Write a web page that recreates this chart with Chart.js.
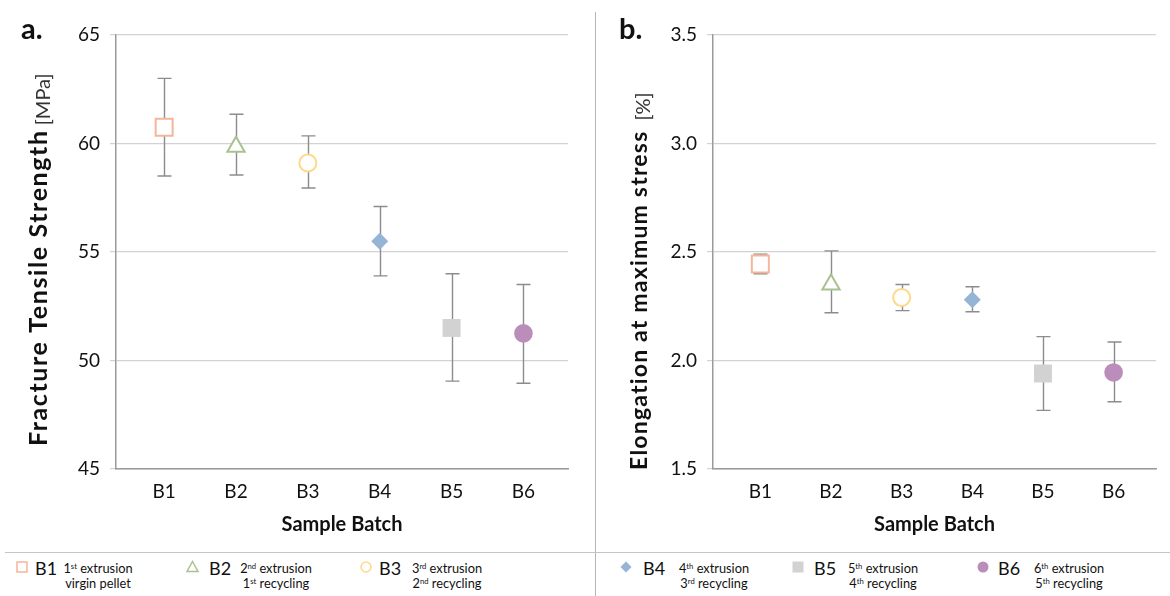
<!DOCTYPE html>
<html>
<head>
<meta charset="utf-8">
<script src="https://cdn.jsdelivr.net/npm/chart.js@4/dist/chart.umd.min.js"></script>
<style>
  html, body { margin: 0; padding: 0; background: #fff; }
  body { width: 1170px; height: 596px; position: relative; overflow: hidden; font-family: Lato, "Open Sans", sans-serif; color: #111; }
  canvas { position: absolute; top: 0; }
  #chartA { left: 0; }
  #chartB { left: 596px; }
  .panel { position: absolute; font-weight: 700; font-size: 29px; line-height: 1; }
  .sep-v { position: absolute; left: 595px; top: 12px; width: 1px; height: 584px; background: #b5b5b5; }
  .sep-h { position: absolute; left: 5px; top: 552px; width: 1165px; height: 1px; background: #c4c4c4; }
  .leg-mark { position: absolute; }
  .leg-id { position: absolute; top: 558px; font-size: 18px; line-height: 20px; }
  .leg-txt { position: absolute; top: 561px; transform: translateX(-50%); font-size: 12.8px; line-height: 15px; text-align: center; white-space: nowrap; }
  .leg-txt sup { font-size: 0.6em; line-height: 0; vertical-align: 0.55em; }
</style>
</head>
<body>
<canvas id="chartA" width="595" height="545"></canvas>
<canvas id="chartB" width="574" height="545"></canvas>
<div class="panel" style="left:21px; top:13px;">a.</div>
<div class="panel" style="left:619px; top:13px;">b.</div>
<div class="sep-v"></div>
<div class="sep-h"></div>

<!-- legend -->
<svg class="leg-mark" style="left:16px; top:561px;" width="12" height="12"><rect x="1" y="1" width="10" height="10" fill="none" stroke="#f5b59b" stroke-width="1.5"/></svg>
<div class="leg-id" style="left:35px;">B1</div>
<div class="leg-txt" style="left:98px;">1<sup>st</sup> extrusion<br>virgin pellet</div>

<svg class="leg-mark" style="left:186px; top:560px;" width="13" height="13"><polygon points="6.5,1.5 12,11.5 1,11.5" fill="none" stroke="#a9c191" stroke-width="1.5"/></svg>
<div class="leg-id" style="left:209px;">B2</div>
<div class="leg-txt" style="left:276px;">2<sup>nd</sup> extrusion<br>1<sup>st</sup> recycling</div>

<svg class="leg-mark" style="left:360px; top:561px;" width="12" height="12"><circle cx="6" cy="6" r="5" fill="none" stroke="#fdd98a" stroke-width="1.5"/></svg>
<div class="leg-id" style="left:379px;">B3</div>
<div class="leg-txt" style="left:447px;">3<sup>rd</sup> extrusion<br>2<sup>nd</sup> recycling</div>

<svg class="leg-mark" style="left:620px; top:561px;" width="12" height="12"><polygon points="6,0.5 11.5,6 6,11.5 0.5,6" fill="#95b4d6"/></svg>
<div class="leg-id" style="left:643px;">B4</div>
<div class="leg-txt" style="left:714px;">4<sup>th</sup> extrusion<br>3<sup>rd</sup> recycling</div>

<svg class="leg-mark" style="left:792px; top:561px;" width="12" height="12"><rect x="0.5" y="0.5" width="11" height="11" fill="#d2d2d2"/></svg>
<div class="leg-id" style="left:814px;">B5</div>
<div class="leg-txt" style="left:883px;">5<sup>th</sup> extrusion<br>4<sup>th</sup> recycling</div>

<svg class="leg-mark" style="left:977px; top:561px;" width="12" height="12"><circle cx="6" cy="6" r="5.5" fill="#bb8dbb"/></svg>
<div class="leg-id" style="left:998px;">B6</div>
<div class="leg-txt" style="left:1069px;">6<sup>th</sup> extrusion<br>5<sup>th</sup> recycling</div>

<script>
// ===============================
// DATA
// ===============================
const batches = ['B1', 'B2', 'B3', 'B4', 'B5', 'B6'];

const strengthMean = [60.75, 59.85, 59.1, 55.5, 51.5, 51.25];
const strengthLow  = [58.5, 58.55, 57.95, 53.9, 49.05, 48.95];
const strengthHigh = [63.0, 61.35, 60.35, 57.1, 54.0, 53.5];
const strengthTicks = [45, 50, 55, 60, 65];

const elongMean = [2.445, 2.35, 2.29, 2.28, 1.94, 1.945];
const elongLow  = [2.40, 2.22, 2.23, 2.225, 1.77, 1.81];
const elongHigh = [2.49, 2.505, 2.35, 2.34, 2.11, 2.085];
const elongTicks = [1.5, 2.0, 2.5, 3.0, 3.5];

// ===============================
// MARKER STYLES (per batch)
// ===============================
const markerShape  = ['rect', 'triangle', 'circle', 'rectRot', 'rect', 'circle'];
const markerRadius = [12, 10, 8.5, 8.5, 12.7, 9.3];
const markerStroke = ['#f5b59b', '#a9c191', '#fdd98a', '#95b4d6', '#d2d2d2', '#bb8dbb'];
const markerFill   = ['#ffffff', '#ffffff', '#ffffff', '#95b4d6', '#d2d2d2', '#bb8dbb'];
const markerBorder = [2, 2, 2, 0, 0, 0];

// ===============================
// PLUGINS
// ===============================
const errorBars = {
  id: 'errorBars',
  beforeDatasetsDraw(chart, args, opts) {
    const { ctx, scales: { x, y } } = chart;
    ctx.save();
    ctx.strokeStyle = '#8c8c8c';
    ctx.lineWidth = 1.4;
    opts.low.forEach((lo, i) => {
      const px = Math.round(x.getPixelForValue(i + 1)) + 0.5;
      const top = y.getPixelForValue(opts.high[i]);
      const bot = y.getPixelForValue(lo);
      ctx.beginPath();
      ctx.moveTo(px, top); ctx.lineTo(px, bot);
      ctx.moveTo(px - 7, top); ctx.lineTo(px + 7, top);
      ctx.moveTo(px - 7, bot); ctx.lineTo(px + 7, bot);
      ctx.stroke();
    });
    ctx.restore();
  }
};

const yTitle = {
  id: 'yTitle',
  afterDraw(chart, args, opts) {
    const { ctx } = chart;
    ctx.save();
    ctx.translate(opts.x, opts.y);
    ctx.rotate(-Math.PI / 2);
    ctx.fillStyle = '#111';
    ctx.textBaseline = 'alphabetic';
    ctx.textAlign = 'left';
    ctx.font = `bold ${opts.mainSize}px Lato`;
    ctx.letterSpacing = opts.spacing + 'px';
    ctx.fillText(opts.main, 0, 0);
    const w = ctx.measureText(opts.main).width;
    ctx.letterSpacing = '0px';
    ctx.font = `${opts.unitSize}px Lato`;
    ctx.fillStyle = '#333';
    ctx.fillText(opts.unit, w + opts.gap, opts.unitShift);
    ctx.restore();
  }
};

// ===============================
// CHART BUILDER
// ===============================
function buildChart(id, mean, low, high, ticks, axisWidth, rightPad, xMax, title, decimals) {
  const canvas = document.getElementById(id);
  return new Chart(canvas.getContext('2d'), {
    type: 'scatter',
    data: {
      datasets: [{
        data: mean.map((v, i) => ({ x: i + 1, y: v })),
        pointStyle: markerShape,
        pointRadius: markerRadius,
        pointHoverRadius: markerRadius,
        pointBackgroundColor: markerFill,
        pointBorderColor: markerStroke,
        pointBorderWidth: markerBorder,
        showLine: false
      }]
    },
    options: {
      responsive: false,
      animation: false,
      devicePixelRatio: 1,
      layout: { padding: { left: 0, top: 35, right: rightPad, bottom: 0 } },
      plugins: {
        legend: { display: false },
        tooltip: { enabled: false },
        errorBars: { low, high },
        yTitle: title
      },
      scales: {
        x: {
          type: 'linear',
          min: 0.33,
          max: xMax,
          afterBuildTicks: s => { s.ticks = batches.map((b, i) => ({ value: i + 1 })); },
          afterFit: s => { s.height = 76; },
          grid: { display: false, drawTicks: false },
          border: { display: true, color: '#9a9a9a', width: 1.5 },
          ticks: {
            padding: 11,
            color: '#111',
            font: { family: 'Lato', size: 19 },
            callback: v => batches[v - 1] || ''
          },
          title: {
            display: true,
            text: 'Sample Batch',
            color: '#111',
            font: { family: 'Lato', size: 20, weight: 'bold' },
            padding: { top: 0, bottom: 8 }
          }
        },
        y: {
          min: ticks[0],
          max: ticks[ticks.length - 1],
          afterBuildTicks: s => { s.ticks = ticks.map(v => ({ value: v })); },
          afterFit: s => { s.width = axisWidth; },
          grid: { color: '#d2d2d2', lineWidth: 1.2, tickLength: 6, drawTicks: true },
          border: { display: true, color: '#9a9a9a', width: 1.5 },
          ticks: {
            padding: 10,
            color: '#111',
            font: { family: 'Lato', size: 19 },
            callback: v => v.toFixed(decimals)
          }
        }
      }
    },
    plugins: [errorBars, yTitle]
  });
}

// ===============================
// RENDER
// ===============================
buildChart('chartA', strengthMean, strengthLow, strengthHigh, strengthTicks, 116, 27, 6.62,
  { main: 'Fracture Tensile Strength', unit: '[MPa]', x: 47, y: 446, mainSize: 25, spacing: 1.6, unitSize: 20, gap: 4, unitShift: 3 }, 0);

buildChart('chartB', elongMean, elongLow, elongHigh, elongTicks, 117, 7, 6.6,
  { main: 'Elongation at maximum stress', unit: '[%]', x: 51, y: 470, mainSize: 23, spacing: 1.2, unitSize: 20, gap: 10, unitShift: 3 }, 1);
</script>
</body>
</html>
